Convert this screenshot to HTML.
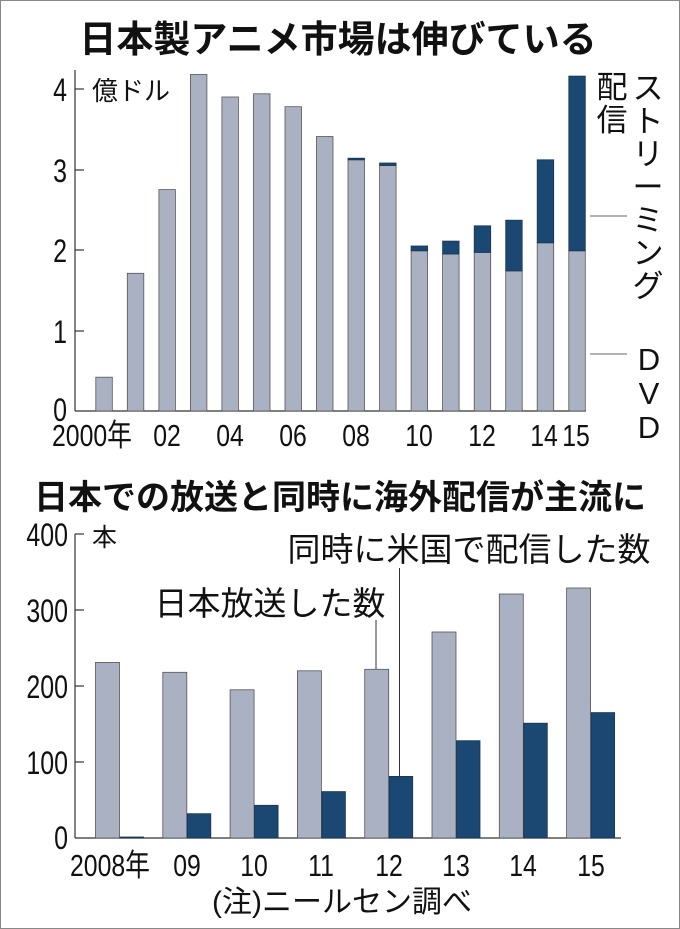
<!DOCTYPE html>
<html><head><meta charset="utf-8"><style>
html,body{margin:0;padding:0;background:#fff}
svg{display:block}
text{font-family:"Liberation Sans","Noto Sans CJK JP",sans-serif;fill:#111}
.g{fill:#aab1c2;stroke:#555;stroke-width:0.8}
.b{fill:#1b4872;stroke:#1a3550;stroke-width:0.8}
</style></head><body>
<svg width="680" height="929" viewBox="0 0 680 929">
<rect x="0.5" y="0.5" width="679" height="928" fill="#fff" stroke="#888"/>
<text x="338" y="52" font-size="37" font-weight="bold" text-anchor="middle">日本製アニメ市場は伸びている</text>
<g stroke="#333" stroke-width="1.2">
<line x1="75" y1="70" x2="75" y2="411"/><line x1="75" y1="411" x2="586" y2="411"/>
<line x1="75" y1="89" x2="84" y2="89"/><line x1="75" y1="170" x2="84" y2="170"/><line x1="75" y1="250" x2="84" y2="250"/><line x1="75" y1="331" x2="84" y2="331"/>
<line x1="590" y1="216" x2="627" y2="216" stroke-width="0.8"/><line x1="590" y1="354" x2="627" y2="354" stroke-width="0.8"/>
</g>
<g font-size="32" text-anchor="end">
<text transform="translate(67,101) scale(.78,1)">4</text>
<text transform="translate(67,182) scale(.78,1)">3</text>
<text transform="translate(67,262) scale(.78,1)">2</text>
<text transform="translate(67,343) scale(.78,1)">1</text>
<text transform="translate(67,421) scale(.78,1)">0</text>
</g>
<text x="92" y="100" font-size="26">億ドル</text>
<g>
<rect class="g" x="95.8" y="377.2" width="16.5" height="33.8"/>
<rect class="g" x="127.3" y="273.3" width="16.5" height="137.7"/>
<rect class="g" x="158.9" y="189.6" width="16.5" height="221.4"/>
<rect class="g" x="190.4" y="74.5" width="16.5" height="336.5"/>
<rect class="g" x="221.9" y="97" width="16.5" height="314"/>
<rect class="g" x="253.5" y="93.8" width="16.5" height="317.2"/>
<rect class="g" x="285" y="106.7" width="16.5" height="304.3"/>
<rect class="g" x="316.5" y="136.5" width="16.5" height="274.5"/>
<rect class="g" x="348" y="159.8" width="16.5" height="251.2"/><rect class="b" x="348" y="158.2" width="16.5" height="1.6"/>
<rect class="g" x="379.6" y="165.5" width="16.5" height="245.5"/><rect class="b" x="379.6" y="163" width="16.5" height="2.5"/>
<rect class="g" x="411.1" y="250.8" width="16.5" height="160.2"/><rect class="b" x="411.1" y="246" width="16.5" height="4.8"/>
<rect class="g" x="442.6" y="254" width="16.5" height="157"/><rect class="b" x="442.6" y="241.1" width="16.5" height="12.9"/>
<rect class="g" x="474.2" y="252.4" width="16.5" height="158.6"/><rect class="b" x="474.2" y="225.8" width="16.5" height="26.6"/>
<rect class="g" x="505.7" y="270.9" width="16.5" height="140.1"/><rect class="b" x="505.7" y="220.2" width="16.5" height="50.7"/>
<rect class="g" x="537.2" y="242.8" width="16.5" height="168.2"/><rect class="b" x="537.2" y="159.8" width="16.5" height="83"/>
<rect class="g" x="568.8" y="250.8" width="16.5" height="160.2"/><rect class="b" x="568.8" y="76.1" width="16.5" height="174.7"/>
</g>
<g font-size="31" text-anchor="middle">
<text transform="translate(92,446) scale(.8,1)">2000年</text>
<text transform="translate(167,446) scale(.8,1)">02</text>
<text transform="translate(230,446) scale(.8,1)">04</text>
<text transform="translate(293,446) scale(.8,1)">06</text>
<text transform="translate(356,446) scale(.8,1)">08</text>
<text transform="translate(419,446) scale(.8,1)">10</text>
<text transform="translate(482,446) scale(.8,1)">12</text>
<text transform="translate(544,446) scale(.8,1)">14</text>
<text transform="translate(576,446) scale(.8,1)">15</text>
</g>
<g font-size="31" text-anchor="middle">
<text x="612" y="98">配</text><text x="612" y="131">信</text>
<text x="648" y="99">ス</text><text x="648" y="132">ト</text><text x="648" y="165">リ</text><text x="648" y="198">ー</text><text x="648" y="231">ミ</text><text x="648" y="264">ン</text><text x="648" y="297">グ</text>
<text x="649" y="370">D</text><text x="649" y="404">V</text><text x="649" y="438">D</text>
</g>
<text x="340" y="509" font-size="34" font-weight="bold" text-anchor="middle">日本での放送と同時に海外配信が主流に</text>
<g stroke="#333" stroke-width="1.2">
<line x1="75" y1="534" x2="75" y2="838"/><line x1="75" y1="838" x2="621" y2="838"/>
<line x1="75" y1="534" x2="84" y2="534"/><line x1="75" y1="610" x2="84" y2="610"/><line x1="75" y1="686" x2="84" y2="686"/><line x1="75" y1="762" x2="84" y2="762"/>
<line x1="376" y1="620" x2="376" y2="669" stroke-width="1"/><line x1="399.5" y1="568" x2="399.5" y2="777" stroke-width="1"/>
</g>
<g font-size="32" text-anchor="end">
<text transform="translate(68,546) scale(.78,1)">400</text>
<text transform="translate(68,622) scale(.78,1)">300</text>
<text transform="translate(68,698) scale(.78,1)">200</text>
<text transform="translate(68,774) scale(.78,1)">100</text>
<text transform="translate(68,849) scale(.78,1)">0</text>
</g>
<text x="92" y="546" font-size="25">本</text>
<g>
<rect class="g" x="95.5" y="662.4" width="24" height="175.6"/><rect class="b" x="120" y="837" width="23.5" height="1"/>
<rect class="g" x="162.8" y="672.3" width="24" height="165.7"/><rect class="b" x="187.3" y="813.7" width="23.5" height="24.3"/>
<rect class="g" x="230.1" y="689.8" width="24" height="148.2"/><rect class="b" x="254.6" y="805.3" width="23.5" height="32.7"/>
<rect class="g" x="297.4" y="670.8" width="24" height="167.2"/><rect class="b" x="321.9" y="791.6" width="23.5" height="46.4"/>
<rect class="g" x="364.7" y="669.3" width="24" height="168.7"/><rect class="b" x="389.2" y="776.4" width="23.5" height="61.6"/>
<rect class="g" x="432" y="632" width="24" height="206"/><rect class="b" x="456.5" y="740.7" width="23.5" height="97.3"/>
<rect class="g" x="499.3" y="594" width="24" height="244"/><rect class="b" x="523.8" y="723.2" width="23.5" height="114.8"/>
<rect class="g" x="566.6" y="588" width="24" height="250"/><rect class="b" x="591.1" y="712.6" width="23.5" height="125.4"/>
</g>
<text x="270" y="615" font-size="33" text-anchor="middle">日本放送した数</text>
<text x="469" y="561" font-size="33" text-anchor="middle">同時に米国で配信した数</text>
<g font-size="31" text-anchor="middle">
<text transform="translate(110,876) scale(.8,1)">2008年</text>
<text transform="translate(187,876) scale(.8,1)">09</text>
<text transform="translate(254,876) scale(.8,1)">10</text>
<text transform="translate(321,876) scale(.8,1)">11</text>
<text transform="translate(389,876) scale(.8,1)">12</text>
<text transform="translate(456,876) scale(.8,1)">13</text>
<text transform="translate(523,876) scale(.8,1)">14</text>
<text transform="translate(591,876) scale(.8,1)">15</text>
</g>
<text x="342" y="912" font-size="30" text-anchor="middle">(注)ニールセン調べ</text>
</svg>
</body></html>
